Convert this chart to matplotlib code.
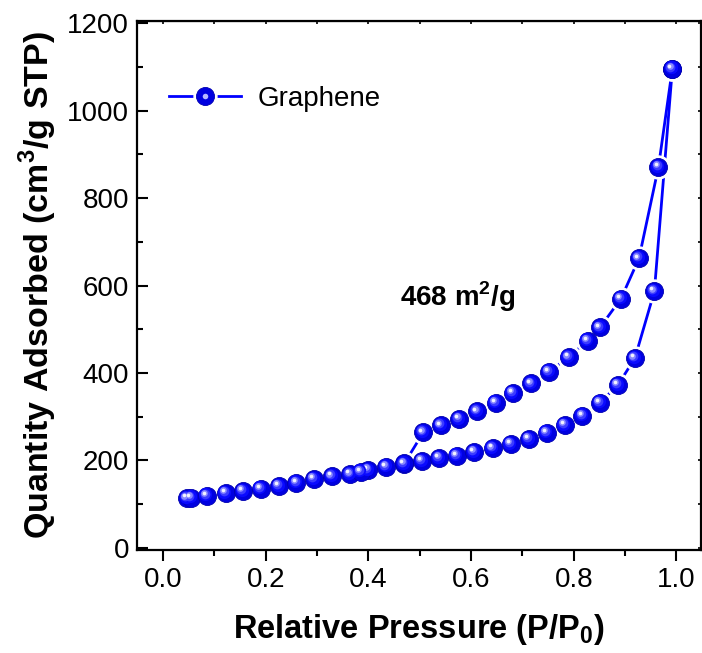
import numpy as np
import matplotlib
matplotlib.use('Agg')
import matplotlib.pyplot as plt
from matplotlib.transforms import offset_copy
from matplotlib.ticker import MultipleLocator

plt.rcParams['font.family'] = ['Liberation Sans', 'DejaVu Sans']
plt.rcParams['mathtext.fontset'] = 'custom'
plt.rcParams['mathtext.rm'] = 'Liberation Sans'
plt.rcParams['mathtext.bf'] = 'Liberation Sans:bold'

# adsorption branch (lower)
ads_p = [0.047, 0.055, 0.085, 0.122, 0.156, 0.190, 0.226, 0.260, 0.294, 0.329,
         0.365, 0.400, 0.435, 0.469, 0.504, 0.538, 0.572, 0.606, 0.642, 0.677,
         0.713, 0.747, 0.782, 0.817, 0.851, 0.886, 0.919, 0.957, 0.992]
ads_q = [113.6, 115, 119.5, 125.7, 130, 135.6, 141.7, 149, 157.7, 163.5,
         168.4, 178, 186, 192, 199, 206, 211, 219, 228, 238,
         249, 263.6, 281, 302.5, 332, 372.6, 433.6, 586.7, 1096]
# desorption branch (upper)
des_p = [0.992, 0.965, 0.927, 0.892, 0.851, 0.827, 0.790, 0.752, 0.717, 0.681,
         0.648, 0.612, 0.577, 0.541, 0.507, 0.470, 0.385]
des_q = [1096, 871.5, 662, 570, 504, 474, 436, 403, 376, 354,
         332, 312, 295, 280, 264, 193, 174.5]

blue = '#0000ff'
ms = 13

fig = plt.figure(figsize=(7.02, 6.53), dpi=100)
ax = fig.add_axes([0.1956, 0.1577, 0.8024, 0.8101])


def spheres(x, y):
    # blue ball with a light spot top-left, white halo leaves gaps in the line
    ax.plot(x, y, 'o', ms=ms + 3.5, color='white', zorder=2)
    ax.plot(x, y, 'o', ms=ms, color='#0000e0', mec='#0000b0', mew=0.6, zorder=3)
    layers = [(9.5, '#0a0aff', 0.9), (7, '#3c3cff', 1.4),
              (4.8, '#8a8aff', 1.9), (2.6, '#f2f2ff', 2.1)]
    for s, c, off in layers:
        tr = offset_copy(ax.transData, fig=fig, x=-off, y=off, units='points')
        ax.plot(x, y, 'o', ms=s, color=c, mew=0, transform=tr, zorder=4)


ln, = ax.plot(ads_p, ads_q, '-', color=blue, lw=2, zorder=1)
ax.plot(des_p, des_q, '-', color=blue, lw=2, zorder=1)
spheres(ads_p, ads_q)
spheres(des_p, des_q)

# legend handle: line + ball
h_halo, = ax.plot([], [], 'o', ms=ms + 3.5, color='white')
h_ball, = ax.plot([], [], 'o', ms=ms, color='#0000e0', mec='#0000b0', mew=0.6)
h_spot, = ax.plot([], [], 'o', ms=4, color='#b8b8ff', mew=0)
ax.legend([(ln, h_halo, h_ball, h_spot)], ['Graphene'], loc='upper left',
          bbox_to_anchor=(0.012, 0.925), frameon=False, fontsize=20,
          handlelength=2.6, handletextpad=0.6)

ax.text(0.461, 574, r'468 m$^\mathbf{2}$/g', fontsize=20, fontweight='bold',
        va='center', ha='left')

ax.set_xlim(-0.05, 1.047)
ax.set_ylim(-5, 1205)
ax.xaxis.set_major_locator(MultipleLocator(0.2))
ax.xaxis.set_minor_locator(MultipleLocator(0.1))
ax.yaxis.set_major_locator(MultipleLocator(200))
ax.yaxis.set_minor_locator(MultipleLocator(100))
ax.xaxis.set_major_formatter(plt.FuncFormatter(lambda v, p: f'{v:.1f}'))

ax.tick_params(axis='x', which='major', direction='out', length=8, width=1.5,
               labelsize=20, pad=4)
ax.tick_params(axis='x', which='minor', direction='out', length=4.5, width=1.5)
ax.tick_params(axis='y', which='major', direction='in', length=8, width=1.5,
               labelsize=20, pad=6)
ax.tick_params(axis='y', which='minor', direction='in', length=4.5, width=1.5)
for s in ax.spines.values():
    s.set_linewidth(1.6)

top = ax.secondary_xaxis('top')
top.xaxis.set_major_locator(MultipleLocator(0.1))
top.tick_params(direction='in', length=2.5, width=1.2, labeltop=False)
right = ax.secondary_yaxis('right')
right.yaxis.set_major_locator(MultipleLocator(100))
right.tick_params(direction='in', length=2.5, width=1.2, labelright=False)

ax.set_xlabel(r'Relative Pressure (P/P$_\mathbf{0}$)', fontsize=23.5,
              fontweight='bold', labelpad=14)
ax.set_ylabel(r'Quantity Adsorbed (cm$^\mathbf{3}$/g STP)', fontsize=24.5,
              fontweight='bold', labelpad=6)

fig.savefig('out.png', dpi=100)
